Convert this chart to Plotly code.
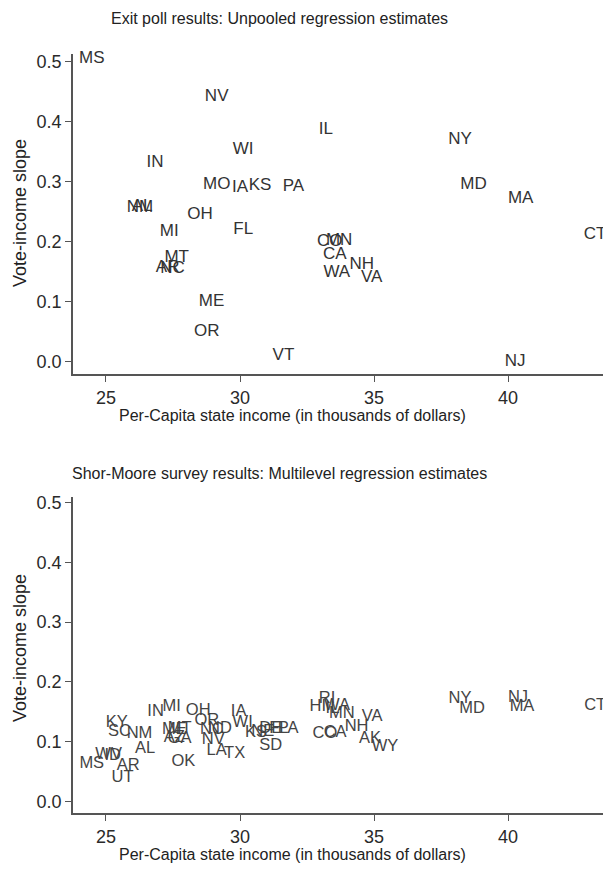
import plotly.graph_objects as go

# ---------------- data ----------------
# Top panel: Exit poll results, unpooled regression estimates
top_states = ["MS", "NV", "IL", "WI", "IN", "MO", "IA", "KS", "PA", "NM", "AL",
              "OH", "MI", "FL", "MT", "AR", "NC", "ME", "OR", "VT",
              "CO", "MN", "CA", "NH", "WA", "VA", "NY", "MD", "MA", "NJ", "CT"]
top_income = [24.47, 29.13, 33.20, 30.12, 26.83, 29.13, 30.00, 30.75, 31.99, 26.27, 26.35,
              28.51, 27.36, 30.12, 27.64, 27.30, 27.48, 28.94, 28.76, 31.62,
              33.35, 33.70, 33.54, 34.54, 33.61, 34.91, 38.21, 38.71, 40.47, 40.26, 43.25]
top_slope = [0.505, 0.441, 0.387, 0.353, 0.332, 0.2945, 0.289, 0.293, 0.292, 0.256, 0.258,
             0.245, 0.217, 0.220, 0.173, 0.157, 0.155, 0.099, 0.049, 0.0095,
             0.200, 0.201, 0.178, 0.162, 0.148, 0.140, 0.370, 0.295, 0.272, 0.0, 0.211]

# Bottom panel: Shor-Moore survey results, multilevel regression estimates
bot_states = ["MS", "WV", "ID", "AR", "UT", "AL", "KY", "SC", "NM", "IN", "MI",
              "MT", "ME", "AZ", "GA", "OK", "OH", "OR", "NC", "ND", "NV", "LA",
              "TX", "IA", "WI", "KS", "NE", "DE", "FL", "PA", "SD", "HI", "RI",
              "IL", "WA", "MN", "VA", "CO", "CA", "NH", "AK", "WY", "NY", "MD",
              "NJ", "MA", "CT"]
bot_income = [24.47, 25.10, 25.25, 25.83, 25.62, 26.46, 25.40, 25.50, 26.25, 26.85, 27.45,
              27.75, 27.55, 27.55, 27.75, 27.89, 28.44, 28.76, 28.95, 29.25, 29.00, 29.13,
              29.80, 29.95, 30.10, 30.60, 30.85, 31.15, 31.45, 31.80, 31.15, 32.90, 33.25,
              33.45, 33.62, 33.80, 34.93, 33.17, 33.55, 34.35, 34.85, 35.41, 38.21, 38.66,
              40.37, 40.52, 43.25]
bot_slope = [0.063, 0.078, 0.076, 0.060, 0.040, 0.088, 0.132, 0.116, 0.113, 0.150, 0.158,
             0.121, 0.119, 0.106, 0.104, 0.066, 0.152, 0.135, 0.120, 0.121, 0.103, 0.085,
             0.079, 0.150, 0.132, 0.114, 0.116, 0.121, 0.121, 0.121, 0.093, 0.158, 0.172,
             0.155, 0.160, 0.147, 0.142, 0.113, 0.115, 0.124, 0.1045, 0.0905, 0.172, 0.155,
             0.173, 0.158, 0.160]

x_ticks = [25, 30, 35, 40]
y_ticks = [0.0, 0.1, 0.2, 0.3, 0.4, 0.5]

titles = ["Exit poll results: Unpooled regression estimates",
          "Shor-Moore survey results: Multilevel regression estimates"]
x_title = "Per-Capita state income (in thousands of dollars)"
y_title = "Vote-income slope"

# ---------------- figure ----------------
# The page body has an 8px margin, so the figure is offset by (8, 8).
OFF = 8
W, H = 611 - OFF, 870 - OFF
FONT = "Liberation Sans, Arial, sans-serif"
AXIS_COLOR = "#555555"

fig = go.Figure()
fig.add_trace(go.Scatter(x=top_income, y=top_slope, text=top_states, mode="text",
                         textposition="middle center", cliponaxis=False,
                         textfont=dict(family=FONT, size=17, color="#333333"),
                         xaxis="x", yaxis="y", showlegend=False, hoverinfo="skip"))
fig.add_trace(go.Scatter(x=bot_income, y=bot_slope, text=bot_states, mode="text",
                         textposition="middle center", cliponaxis=False,
                         textfont=dict(family=FONT, size=16.5, color="#444444"),
                         xaxis="x2", yaxis="y2", showlegend=False, hoverinfo="skip"))


def px_x(p):
    return (p - OFF) / W


def px_y(p):
    return 1 - (p - OFF) / H


axis_common = dict(showline=True, linecolor=AXIS_COLOR, linewidth=1.5,
                   ticks="outside", ticklen=6, tickwidth=1.3, tickcolor=AXIS_COLOR,
                   showgrid=False, zeroline=False,
                   tickfont=dict(family=FONT, size=18, color="#2a2a2a"))

fig.update_layout(
    width=W, height=H,
    margin=dict(l=0, r=0, t=0, b=0),
    paper_bgcolor="white", plot_bgcolor="white",
    xaxis=dict(domain=[px_x(73), 1.0], range=[23.77, 43.84], tickvals=x_ticks,
               anchor="y", **axis_common),
    yaxis=dict(domain=[px_y(372), px_y(50)], range=[-0.0216, 0.5133], tickvals=y_ticks,
               tickformat=".1f", anchor="x", **axis_common),
    xaxis2=dict(domain=[px_x(73), 1.0], range=[23.77, 43.84], tickvals=x_ticks,
                anchor="y2", **axis_common),
    yaxis2=dict(domain=[px_y(813), px_y(495)], range=[-0.02, 0.51], tickvals=y_ticks,
                tickformat=".1f", anchor="x2", **axis_common),
)

ann_font = dict(family=FONT, size=16, color="#222222")
annotations = [
    dict(text=titles[0], x=px_x(279), y=px_y(15), xref="paper", yref="paper",
         showarrow=False, xanchor="center", yanchor="middle", font=ann_font),
    dict(text=titles[1], x=px_x(279), y=px_y(472), xref="paper", yref="paper",
         showarrow=False, xanchor="center", yanchor="middle", font=ann_font),
    dict(text=x_title, x=px_x(292), y=px_y(413), xref="paper", yref="paper",
         showarrow=False, xanchor="center", yanchor="middle", font=ann_font),
    dict(text=x_title, x=px_x(292), y=px_y(854), xref="paper", yref="paper",
         showarrow=False, xanchor="center", yanchor="middle", font=ann_font),
    dict(text=y_title, x=px_x(20), y=px_y(210), xref="paper", yref="paper",
         showarrow=False, xanchor="center", yanchor="middle", textangle=-90,
         font=dict(family=FONT, size=18, color="#222222")),
    dict(text=y_title, x=px_x(20), y=px_y(647), xref="paper", yref="paper",
         showarrow=False, xanchor="center", yanchor="middle", textangle=-90,
         font=dict(family=FONT, size=18, color="#222222")),
]
fig.update_layout(annotations=annotations)

fig.write_html("out.html")
